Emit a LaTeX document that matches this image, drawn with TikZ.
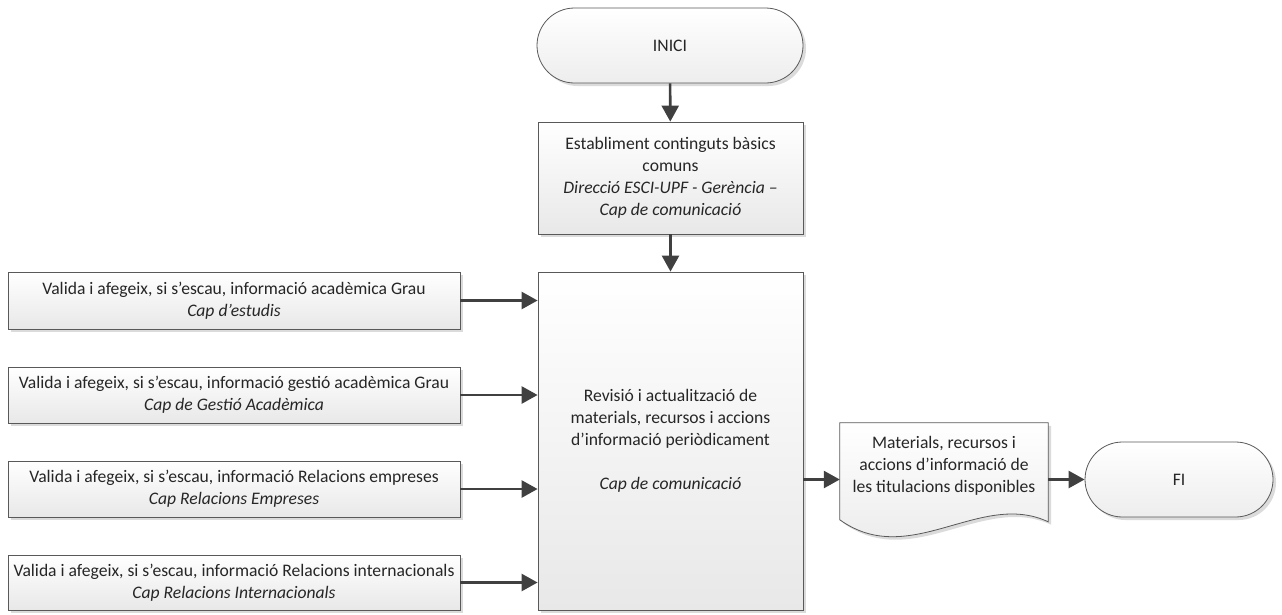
\documentclass[tikz,border=0pt]{standalone}
\usepackage{fontspec}
\setmainfont{Carlito}
\usetikzlibrary{positioning,calc,shapes.misc,shadows,arrows.meta}

\tikzset{
  boxshadow/.style={drop shadow={shadow xshift=3pt,shadow yshift=-3pt,fill=black!14,opacity=1}},
  procbox/.style={rectangle,draw=black!65,line width=0.8pt,top color=white,bottom color=black!9,
    boxshadow,align=center,inner sep=0pt},
  termbox/.style={rounded rectangle,draw=black!65,line width=0.8pt,top color=white,bottom color=black!7,
    boxshadow,minimum width=266pt,minimum height=75pt,inner sep=0pt},
  flow/.style={-{Triangle[length=16pt,width=17pt]},line width=2.6pt,draw=black!75},
}

\begin{document}
\begin{tikzpicture}[x=1pt,y=-1pt,every node/.style={font=\fontsize{17.6}{22}\selectfont,text=black!85}]
        \useasboundingbox (0,0) rectangle (1282,614);

        \node[termbox] (inici) at (670,45.5) {INICI};
        \node[procbox,minimum width=265pt,minimum height=112pt] (estab) at (670.5,178)
            {Establiment continguts bàsics\\comuns\\\textit{Direcció ESCI-UPF - Gerència –}\\\textit{Cap de comunicació}};
        \node[procbox,minimum width=265pt,minimum height=338pt] (revisio) at (670.5,441)
            {Revisió i actualització de\\materials, recursos i accions\\d’informació periòdicament\\[22pt]\textit{Cap de comunicació}};

        \node[procbox,minimum width=452pt,minimum height=57pt] (grau) at (234,300.5)
            {Valida i afegeix, si s’escau, informació acadèmica Grau\\\textit{Cap d’estudis}};
        \node[procbox,minimum width=452pt,minimum height=56pt] (gestio) at (234,395)
            {Valida i afegeix, si s’escau, informació gestió acadèmica Grau\\\textit{Cap de Gestió Acadèmica}};
        \node[procbox,minimum width=452pt,minimum height=56pt] (empreses) at (234,489)
            {Valida i afegeix, si s’escau, informació Relacions empreses\\\textit{Cap Relacions Empreses}};
        \node[procbox,minimum width=452pt,minimum height=55pt] (inter) at (234,582.5)
            {Valida i afegeix, si s’escau, informació Relacions internacionals\\\textit{Cap Relacions Internacionals}};

        % document shape
        \node[minimum width=208pt,minimum height=86pt,inner sep=0pt] (doc) at (944,466) {};
        \fill[black!14] ($(doc.north west)+(3,3)$) -- ($(doc.north east)+(3,3)$) -- ($(doc.north east)+(3,102)$)
            .. controls ($(doc.north east)+(-65,70)$) and ($(doc.north west)+(73,150)$) .. ($(doc.north west)+(3,100)$) -- cycle;
        \draw[draw=black!65,line width=0.8pt,top color=white,bottom color=black!9] (doc.north west) -- (doc.north east) -- ($(doc.north east)+(0,99)$)
            .. controls ($(doc.north east)+(-68,67)$) and ($(doc.north west)+(70,147)$) .. ($(doc.north west)+(0,97)$) -- cycle;
        \node[align=center] (doctext) at (doc) {Materials, recursos i\\accions d’informació de\\les titulacions disponibles};

        \node[termbox,minimum width=188pt] (fi) at (1179,479.5) {FI};

        \draw[flow] (inici) -- (estab);
        \draw[flow] (estab) -- (revisio);
        \draw[flow] (grau.east) -- (grau.east -| revisio.west);
        \draw[flow] (gestio.east) -- (gestio.east -| revisio.west);
        \draw[flow] (empreses.east) -- (empreses.east -| revisio.west);
        \draw[flow] (inter.east) -- (inter.east -| revisio.west);
        \draw[flow] (fi.west -| revisio.east) -- (fi.west -| doc.west);
        \draw[flow] (fi.west -| doc.east) -- (fi.west);

    \end{tikzpicture}
\end{document}
